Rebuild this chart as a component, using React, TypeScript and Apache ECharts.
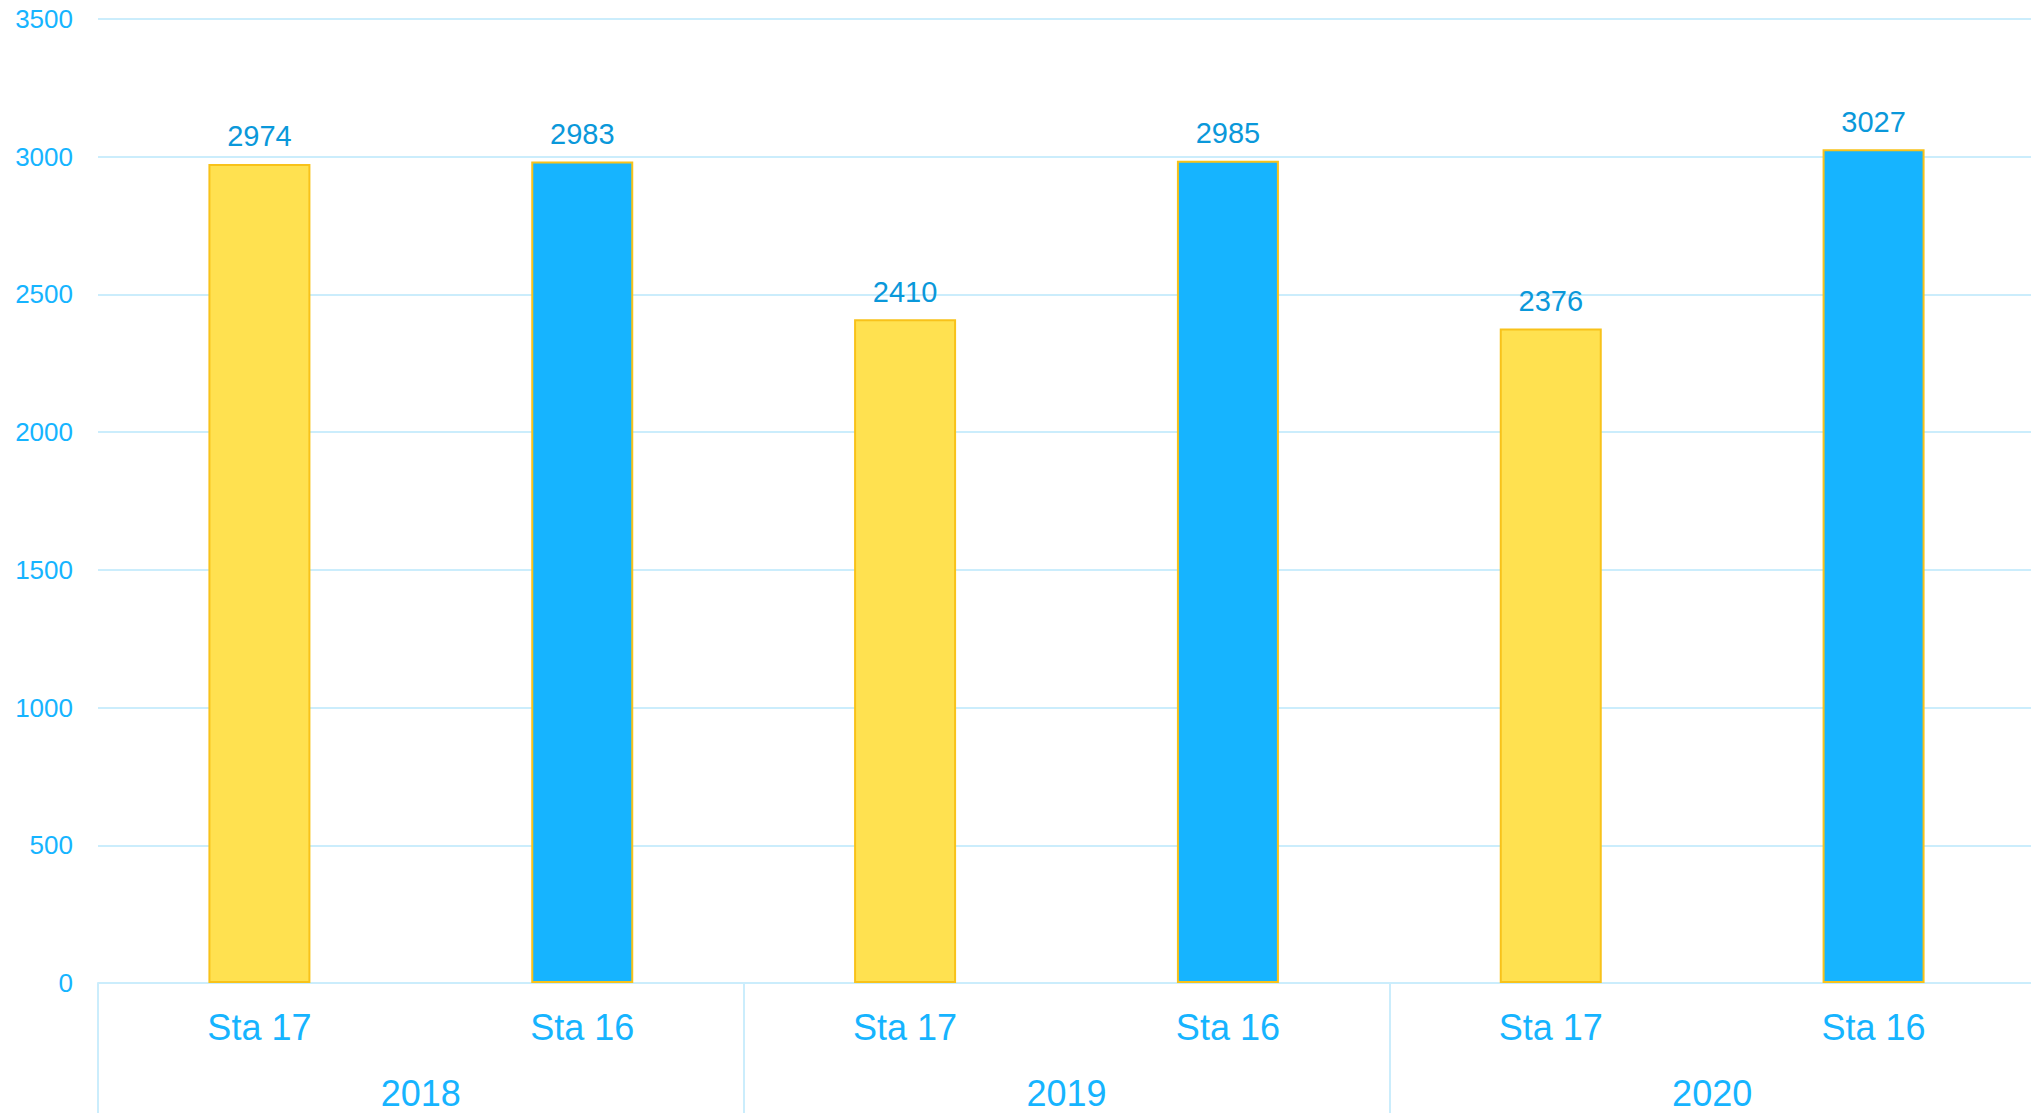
import React, { useEffect, useRef } from "react";
import * as echarts from "echarts";

const stations = ["Sta 17", "Sta 16", "Sta 17", "Sta 16", "Sta 17", "Sta 16"];
const years = ["2018", "2019", "2020"];
const values = [2974, 2983, 2410, 2985, 2376, 3027];
const barColors = ["#FFE150", "#16B4FF", "#FFE150", "#16B4FF", "#FFE150", "#16B4FF"];
const yTicks = { min: 0, max: 3500, interval: 500 };

export default function App() {
  const ref = useRef<HTMLDivElement>(null);
  useEffect(() => {
    document.body.style.margin = "0";
    document.body.style.overflow = "hidden";
    if (!ref.current) return;
    const chart = echarts.init(ref.current, null, { renderer: "svg" });
    const font = "'Liberation Sans', Arial, sans-serif";
    const axisBlue = "#16B4FF";
    const lineBlue = "#CBEDFC";
    chart.setOption({
      animation: false,
      backgroundColor: "#ffffff",
      grid: { left: 98, right: 10, top: 19, bottom: 130, containLabel: false },
      xAxis: [
        {
          type: "category",
          data: stations,
          position: "bottom",
          axisLine: { show: true, lineStyle: { color: lineBlue, width: 2 } },
          axisTick: { show: false },
          axisLabel: { color: axisBlue, fontSize: 36, fontFamily: font, margin: 26 },
        },
        {
          type: "category",
          data: years,
          position: "bottom",
          offset: 0,
          axisLine: { show: false },
          axisTick: { show: true, length: 140, lineStyle: { color: lineBlue, width: 2 } },
          axisLabel: { color: axisBlue, fontSize: 36, fontFamily: font, margin: 92 },
        },
      ],
      yAxis: {
        type: "value",
        min: yTicks.min,
        max: yTicks.max,
        interval: yTicks.interval,
        axisLine: { show: false },
        axisTick: { show: false },
        splitLine: { lineStyle: { color: lineBlue, width: 2 } },
        axisLabel: {
          color: axisBlue,
          fontSize: 26,
          fontFamily: font,
          margin: 25,
          formatter: (v: number) => String(v),
        },
      },
      series: [
        {
          type: "bar",
          xAxisIndex: 0,
          data: values,
          barWidth: 102,
          itemStyle: {
            color: (p: any) => barColors[p.dataIndex],
            borderColor: "#F8C21A",
            borderWidth: 2,
          },
          label: {
            show: true,
            position: "top",
            distance: 13,
            color: "#0A98DA",
            fontSize: 29,
            fontFamily: font,
          },
        },
      ],
    });
    return () => chart.dispose();
  }, []);
  return <div ref={ref} style={{ width: 2045, height: 1113 }} />;
}
